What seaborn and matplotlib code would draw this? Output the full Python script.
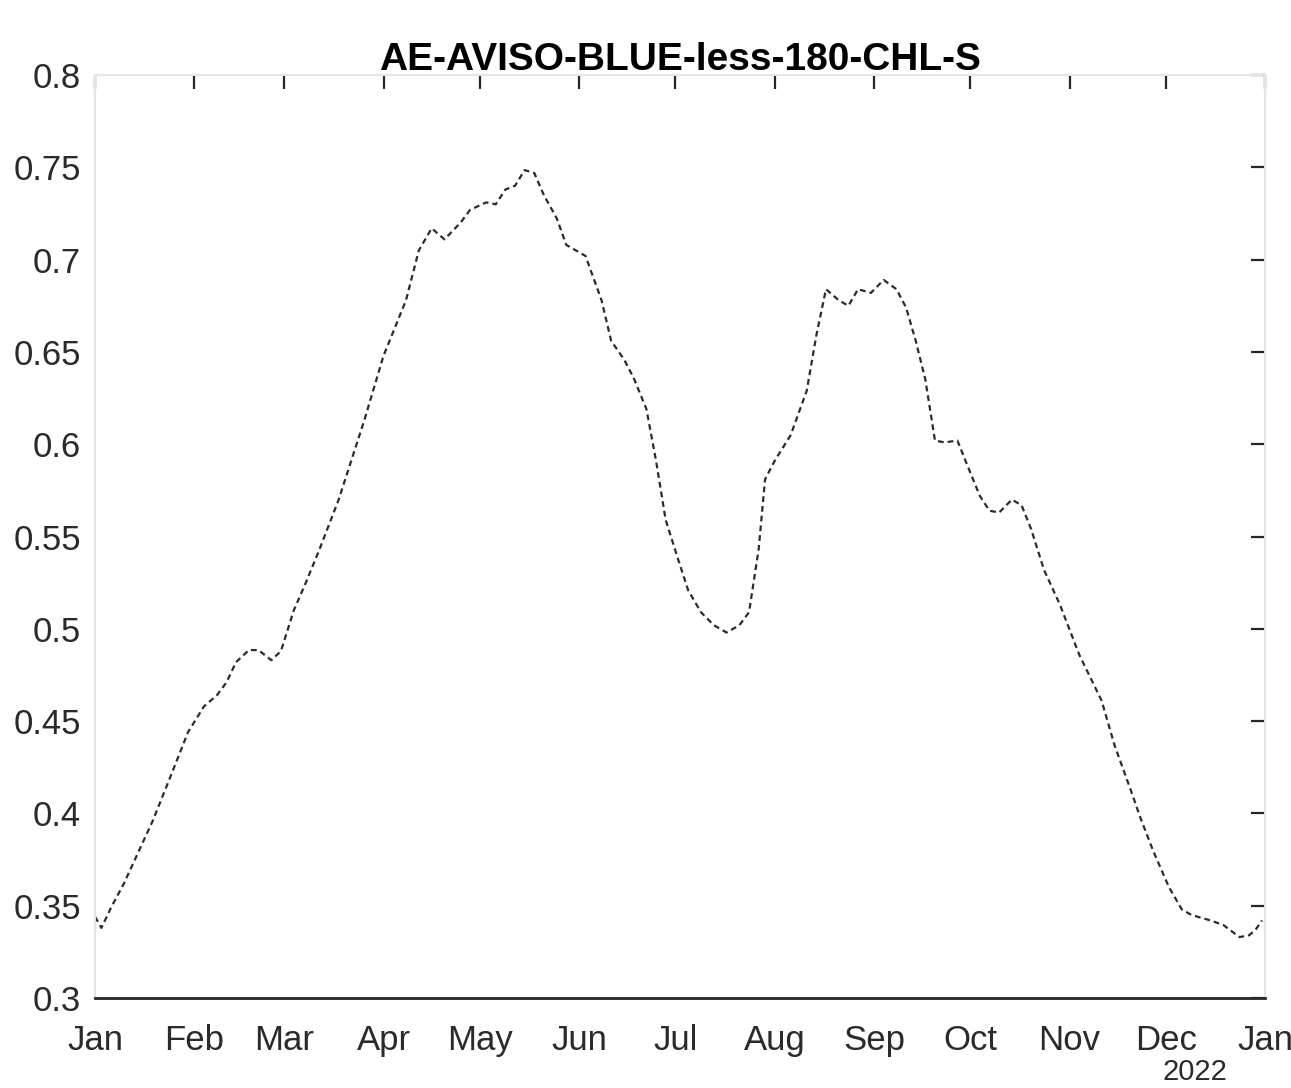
import pandas as pd
import seaborn as sns
import matplotlib.pyplot as plt
import matplotlib.dates as mdates
import matplotlib.transforms as mtransforms

# Day of year (0 = 1 Jan 2021) and the plotted value
days = [0, 2, 5, 9, 18, 24, 29, 34, 38, 41, 44, 48, 51, 55, 58, 62, 66, 70, 76,
        84, 90, 97, 101, 105, 109, 114, 117, 122, 125, 128, 131, 134, 137, 140,
        144, 147, 150, 153, 158, 161, 165, 168, 172, 175, 178, 182, 185, 189,
        193, 197, 201, 204, 207, 209, 212, 217, 222, 225, 228, 232, 235, 238,
        242, 246, 250, 253, 256, 259, 262, 265, 269, 272, 276, 279, 282, 286,
        289, 292, 296, 301, 307, 314, 318, 323, 326, 330, 335, 339, 342, 348,
        352, 357, 360, 362, 364]
values = [0.344, 0.338, 0.349, 0.362, 0.396, 0.422, 0.444, 0.458, 0.464, 0.471,
          0.482, 0.4885, 0.4885, 0.483, 0.488, 0.510, 0.526, 0.543, 0.570, 0.613,
          0.648, 0.678, 0.705, 0.717, 0.711, 0.720, 0.727, 0.731, 0.730, 0.738,
          0.740, 0.7485, 0.747, 0.735, 0.7225, 0.708, 0.705, 0.702, 0.678, 0.656,
          0.646, 0.636, 0.619, 0.591, 0.559, 0.537, 0.521, 0.509, 0.502, 0.498,
          0.502, 0.509, 0.543, 0.581, 0.591, 0.605, 0.629, 0.659, 0.684, 0.678,
          0.675, 0.684, 0.682, 0.689, 0.684, 0.674, 0.656, 0.635, 0.602, 0.601,
          0.602, 0.589, 0.572, 0.564, 0.563, 0.570, 0.567, 0.554, 0.532, 0.513,
          0.486, 0.461, 0.437, 0.413, 0.398, 0.380, 0.360, 0.348, 0.345, 0.342,
          0.3395, 0.333, 0.334, 0.337, 0.342]
title = 'AE-AVISO-BLUE-less-180-CHL-S'
y_ticks = [0.3, 0.35, 0.4, 0.45, 0.5, 0.55, 0.6, 0.65, 0.7, 0.75, 0.8]
y_labels = ['0.3', '0.35', '0.4', '0.45', '0.5', '0.55', '0.6', '0.65', '0.7', '0.75', '0.8']

df = pd.DataFrame({'date': pd.Timestamp('2021-01-01') + pd.to_timedelta(days, unit='D'),
                   'chl': values})

sns.set_theme(style='white')
plt.rcParams['font.family'] = ['Liberation Sans', 'DejaVu Sans']

fig = plt.figure(figsize=(12.91, 10.88), dpi=100)
ax = fig.add_axes([0.0736, 0.0827, 0.9064, 0.8483])

sns.lineplot(data=df, x='date', y='chl', ax=ax, color='#2b2b2b',
             linewidth=1.6, linestyle=(0, (2.6, 1.8)))

ax.set_xlim(pd.Timestamp('2021-01-01'), pd.Timestamp('2022-01-01'))
ax.set_ylim(0.3, 0.8)
ax.set_yticks(y_ticks)
ax.set_yticklabels(y_labels)
ax.xaxis.set_major_locator(mdates.MonthLocator())
ax.xaxis.set_major_formatter(mdates.DateFormatter('%b'))
ax.set_xlabel('')
ax.set_ylabel('')

# MATLAB-like box: light frame, dark bottom axis, ticks inside on all sides
for side in ['left', 'top', 'right']:
    ax.spines[side].set_color('#e4e4e4')
    ax.spines[side].set_linewidth(1.5)
ax.spines['bottom'].set_color('#262626')
ax.spines['bottom'].set_linewidth(2)
ax.tick_params(axis='both', which='major', direction='in', length=10, width=1.6,
               color='#262626', labelsize=25, labelcolor='#2a2a2a',
               top=True, right=True, pad=10)
ax.tick_params(axis='x', pad=19)

ax.set_title(title, fontsize=28, fontweight='bold', color='black', pad=4)

# year label under the last tick
trans = mtransforms.blended_transform_factory(ax.transData, ax.transAxes)
ax.text(mdates.date2num(pd.Timestamp('2021-12-10')), -0.065, '2022',
        transform=trans, ha='center', va='top', fontsize=21, color='#2a2a2a')

plt.savefig('out.png', dpi=100)
